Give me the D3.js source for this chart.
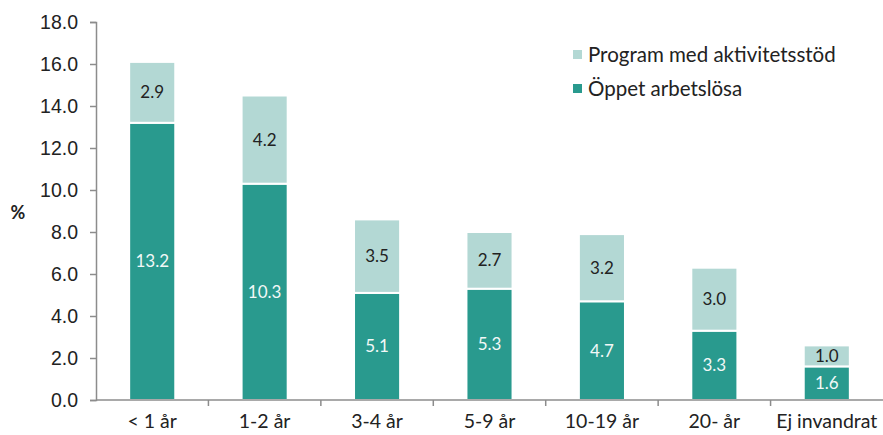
<!DOCTYPE html>
<html>
<head>
<meta charset="utf-8">
<script src="https://cdn.jsdelivr.net/npm/d3@7"></script>
<style>
  body { margin: 0; background: #fff; }
  svg { font-family: Lato, "Open Sans", sans-serif; }
</style>
</head>
<body>
<svg id="chart" width="883" height="435"></svg>
<script>
const categories = ['< 1 år', '1-2 år', '3-4 år', '5-9 år', '10-19 år', '20- år', 'Ej invandrat'];
const oppet = [13.2, 10.3, 5.1, 5.3, 4.7, 3.3, 1.6];
const program = [2.9, 4.2, 3.5, 2.7, 3.2, 3.0, 1.0];
const yTicks = [0, 2, 4, 6, 8, 10, 12, 14, 16, 18];

const darkCol = '#299a8e';
const lightCol = '#b3d8d4';

const svg = d3.select('#chart');
const margin = { left: 96, top: 22, bottom: 35 };
const width = 883;
const height = 435;

const x = d3.scaleBand().domain(categories).range([margin.left, width]).paddingInner(0.59).paddingOuter(0.295);
const y = d3.scaleLinear().domain([0, 18]).range([height - margin.bottom, margin.top]);

const rows = categories.map((c, i) => ({ cat: c, oppet: oppet[i], program: program[i] }));
const stack = d3.stack().keys(['oppet', 'program'])(rows);
const colors = { oppet: darkCol, program: lightCol };
const textCols = { oppet: '#f2f8f7', program: '#222' };

// bars
stack.forEach((layer) => {
  const g = svg.append('g');
  g.selectAll('rect')
    .data(layer)
    .join('rect')
    .attr('x', (d) => x(d.data.cat))
    .attr('y', (d) => y(d[1]))
    .attr('width', x.bandwidth())
    .attr('height', (d) => y(d[0]) - y(d[1]))
    .attr('fill', colors[layer.key])
    .attr('stroke', '#fff')
    .attr('stroke-width', 2);

  g.selectAll('text')
    .data(layer)
    .join('text')
    .attr('x', (d) => x(d.data.cat) + x.bandwidth() / 2)
    .attr('y', (d) => (y(d[0]) + y(d[1])) / 2)
    .attr('dy', '0.35em')
    .attr('text-anchor', 'middle')
    .attr('font-size', 17)
    .attr('fill', textCols[layer.key])
    .text((d) => d3.format('.1f')(d[1] - d[0]));
});

// y axis
const yAxis = svg.append('g')
  .attr('transform', `translate(${margin.left},0)`)
  .call(d3.axisLeft(y).tickValues(yTicks).tickFormat(d3.format('.1f')).tickSize(6).tickPadding(12));
yAxis.selectAll('text').attr('font-size', 19.5).attr('fill', '#222').style('font-family', 'inherit');
yAxis.selectAll('line, path').attr('stroke', '#8c8c8c').attr('stroke-width', 1.5);

// x axis
const xAxis = svg.append('g').attr('transform', `translate(0,${y(0)})`);
xAxis.append('line')
  .attr('x1', margin.left).attr('x2', width)
  .attr('stroke', '#8c8c8c').attr('stroke-width', 1.5);
xAxis.selectAll('line.tick')
  .data(categories.slice(1))
  .join('line')
  .attr('class', 'tick')
  .attr('x1', (d) => x(d) - (x.step() - x.bandwidth()) / 2)
  .attr('x2', (d) => x(d) - (x.step() - x.bandwidth()) / 2)
  .attr('y1', 0).attr('y2', 6)
  .attr('stroke', '#8c8c8c').attr('stroke-width', 1.5);
xAxis.selectAll('text')
  .data(categories)
  .join('text')
  .attr('x', (d) => x(d) + x.bandwidth() / 2)
  .attr('y', 28)
  .attr('text-anchor', 'middle')
  .attr('font-size', 19.5)
  .attr('fill', '#222')
  .text((d) => d);

// y label
svg.append('text')
  .attr('x', 18).attr('y', 213)
  .attr('text-anchor', 'middle')
  .attr('dy', '0.35em')
  .attr('font-size', 18)
  .attr('font-weight', 'bold')
  .attr('fill', '#222')
  .text('%');

// legend
const legend = [
  { label: 'Program med aktivitetsstöd', color: lightCol },
  { label: 'Öppet arbetslösa', color: darkCol },
];
const lg = svg.append('g').attr('transform', 'translate(573,55)');
legend.forEach((l, i) => {
  lg.append('rect').attr('x', 0).attr('y', i * 34 - 5).attr('width', 9).attr('height', 9).attr('fill', l.color);
  lg.append('text').attr('x', 15).attr('y', i * 34).attr('dy', '0.35em')
    .attr('font-size', 20.5).attr('fill', '#222').text(l.label);
});
</script>
</body>
</html>
